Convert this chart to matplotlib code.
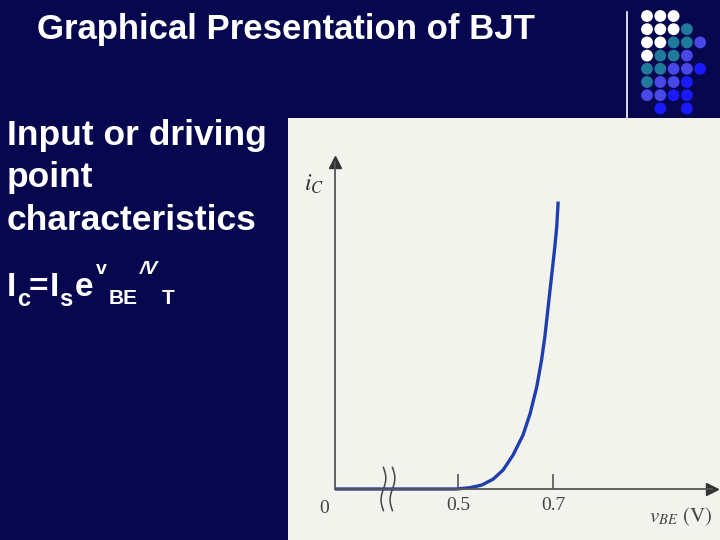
import matplotlib.pyplot as plt
import numpy as np
from matplotlib.patches import Rectangle, Circle

# Input characteristic of the BJT
# v_BE in volts (first point is the broken-axis origin), i_C in arbitrary units
v_be = [0.241, 0.497, 0.525, 0.550, 0.574, 0.595, 0.616, 0.637, 0.652,
        0.666, 0.676, 0.683, 0.690, 0.697, 0.704, 0.708, 0.711]
i_c = [0.0, 0.0, 0.04, 0.12, 0.30, 0.58, 1.04, 1.65, 2.31,
       3.13, 3.94, 4.66, 5.58, 6.49, 7.41, 8.02, 8.79]

tick_vals = [0.5, 0.7]
tick_labels = ["0.5", "0.7"]

title = "Graphical Presentation of BJT"
body_lines = ["Input or driving", "point", "characteristics"]

# decorative dot grid in the top-right corner (row by row, None = empty)
W, T, B2, B3 = "#ffffff", "#1f7a9c", "#4848e8", "#1a1aff"
dot_rows = [
    [W, W, W, None, None],
    [W, W, W, T, None],
    [W, W, T, T, B2],
    [W, T, T, B2, None],
    [T, T, B2, B2, B3],
    [T, B2, B2, B3, None],
    [B2, B2, B3, B3, None],
    [None, B3, None, B3, None],
]

navy = "#07074f"
plt.rcParams["mathtext.fontset"] = "stix"

fig = plt.figure(figsize=(7.2, 5.4), dpi=100, facecolor=navy)

# overlay in pixel coordinates for the slide furniture
bg = fig.add_axes([0, 0, 1, 1])
bg.set_xlim(0, 720)
bg.set_ylim(540, 0)
bg.axis("off")
bg.add_patch(Rectangle((288, 118), 432, 422, facecolor="#f3f3ee", edgecolor="none"))

bg.text(37, 29, title, color="white", fontsize=25, fontweight="bold",
        family="Liberation Sans", va="center", ha="left")
for k, line in enumerate(body_lines):
    bg.text(7, 135 + 42.5 * k, line, color="white", fontsize=25.5, fontweight="bold",
            family="Liberation Sans", va="center", ha="left")

# the (broken) formula  Ic = Is e^(vBE/VT)
eq = dict(color="white", family="Liberation Sans", fontweight="bold",
          va="baseline", ha="left")
bg.text(7, 296, "I", fontsize=24, **eq)
bg.text(17, 306, "c", fontsize=17, **eq)
bg.text(29, 296, "=", fontsize=24, **eq)
bg.text(50, 296, "I", fontsize=24, **eq)
bg.text(59, 306, "s", fontsize=17, **eq)
bg.text(75, 296, "e", fontsize=24, **eq)
bg.text(96, 274, "v", fontsize=14, **eq)
bg.text(109, 304, "BE", fontsize=15, **eq)
bg.text(140, 274, "/V", fontsize=14, fontstyle="italic", **eq)
bg.text(162, 304, "T", fontsize=15, **eq)

# vertical rule and dot grid
bg.plot([627, 627], [12, 118], color="white", lw=1.2)
for r, row in enumerate(dot_rows):
    for c, col in enumerate(row):
        if col is not None:
            bg.add_patch(Circle((647 + 13.3 * c, 16 + 13.2 * r), 5.2, color=col))

# the characteristic plot
ax = fig.add_axes([335 / 720, 51 / 540, 377 / 720, 327 / 540])
ax.patch.set_alpha(0)
ax.set_xlim(0.241, 1.035)
ax.set_ylim(0, 10)
axis_col = "#555555"
for s in ["top", "right"]:
    ax.spines[s].set_visible(False)
for s in ["left", "bottom"]:
    ax.spines[s].set_color(axis_col)
    ax.spines[s].set_linewidth(1.3)
ax.plot(1, 0, ">", color="#333333", ms=9, transform=ax.transAxes, clip_on=False)
ax.plot(0, 1, "^", color="#333333", ms=9, transform=ax.transAxes, clip_on=False)

ax.plot(v_be, i_c, color="#1f3fae", lw=2.4, solid_capstyle="butt", clip_on=False)

# axis break marks
t = np.linspace(-np.pi, np.pi, 40)
for xc in [0.343, 0.362]:
    ax.plot(xc + 0.005 * np.sin(t), 0.66 * t / np.pi, color="#444444", lw=1.1,
            clip_on=False)

ax.set_xticks(tick_vals)
ax.set_xticklabels(tick_labels, family="Liberation Serif", fontsize=14, color="#444444")
ax.tick_params(axis="x", direction="in", length=11, width=1.2, color=axis_col, pad=6)
ax.set_yticks([])
ax.text(-0.03, -0.035, "0", transform=ax.transAxes, family="Liberation Serif",
        fontsize=14, color="#444444", ha="center", va="top")
ax.text(-0.055, 0.97, "$i_C$", transform=ax.transAxes, fontsize=17, color="#333333",
        ha="center", va="top")
ax.text(1.0, -0.05, r"$v_{BE}\ \mathrm{(V)}$", transform=ax.transAxes, fontsize=15,
        color="#444444", ha="right", va="top")

fig.savefig("out.png", dpi=100, facecolor=navy)
